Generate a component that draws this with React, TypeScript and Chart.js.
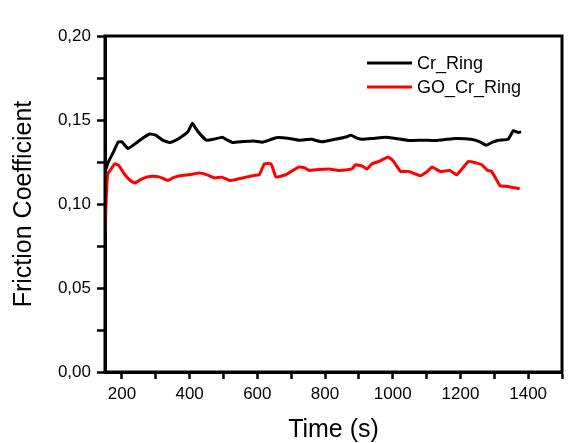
import React, { useEffect, useRef } from "react";
import { Chart, registerables } from "chart.js";

Chart.register(...registerables);

const crTime = [153, 160, 175, 189, 200, 218, 240, 260, 282, 300, 320, 341, 360, 376, 395, 408, 425, 449, 470, 497, 512, 526, 560, 590, 615, 635, 655, 690, 723, 760, 791, 830, 865, 876, 895, 910, 940, 979, 1010, 1047, 1090, 1126, 1160, 1184, 1215, 1243, 1262, 1277, 1295, 1312, 1341, 1356, 1365, 1371, 1379];
const crFriction = [0.121, 0.125, 0.131, 0.137, 0.137, 0.133, 0.136, 0.139, 0.1417, 0.141, 0.138, 0.1366, 0.138, 0.14, 0.143, 0.148, 0.143, 0.138, 0.1385, 0.1398, 0.138, 0.1366, 0.1372, 0.1375, 0.1368, 0.138, 0.1395, 0.1392, 0.138, 0.1385, 0.137, 0.1385, 0.14, 0.141, 0.1392, 0.1385, 0.139, 0.1398, 0.139, 0.1378, 0.138, 0.1378, 0.1385, 0.139, 0.1388, 0.138, 0.1365, 0.135, 0.1368, 0.138, 0.1385, 0.1437, 0.143, 0.1425, 0.143];

const goTime = [150, 154, 158, 165, 179, 190, 209, 225, 238, 255, 273, 290, 312, 336, 350, 371, 400, 429, 450, 474, 495, 518, 545, 567, 590, 606, 614, 621, 640, 648, 655, 684, 705, 723, 740, 753, 780, 812, 840, 866, 880, 890, 910, 924, 939, 959, 986, 1000, 1023, 1047, 1081, 1100, 1116, 1140, 1169, 1189, 1205, 1224, 1245, 1263, 1280, 1292, 1305, 1317, 1335, 1351, 1365, 1375];
const goFriction = [0.083, 0.105, 0.118, 0.12, 0.124, 0.123, 0.1174, 0.114, 0.1125, 0.1145, 0.116, 0.1165, 0.116, 0.114, 0.1155, 0.1168, 0.1175, 0.1184, 0.1175, 0.1155, 0.116, 0.114, 0.115, 0.116, 0.117, 0.1174, 0.121, 0.124, 0.124, 0.12, 0.116, 0.1174, 0.12, 0.122, 0.1215, 0.12, 0.1205, 0.1208, 0.12, 0.1204, 0.121, 0.1234, 0.1225, 0.1208, 0.124, 0.1253, 0.128, 0.126, 0.1194, 0.1194, 0.1168, 0.119, 0.122, 0.1194, 0.12, 0.1174, 0.121, 0.1253, 0.1245, 0.1234, 0.12, 0.1194, 0.115, 0.1109, 0.1105, 0.11, 0.1095, 0.109];

const seriesNames = ["Cr_Ring", "GO_Cr_Ring"];
const xTickValues = [200, 300, 400, 500, 600, 700, 800, 900, 1000, 1100, 1200, 1300, 1400, 1500];
const xLabelValues = [200, 400, 600, 800, 1000, 1200, 1400];
const yTickValues = [0, 0.025, 0.05, 0.075, 0.1, 0.125, 0.15, 0.175, 0.2];
const yLabelValues = [0, 0.05, 0.1, 0.15, 0.2];

const FONT = '"Liberation Sans", Arial, sans-serif';

const framePlugin = {
  id: "frame",
  afterDatasetsDraw(chart: any) {
    const { ctx, chartArea } = chart;
    ctx.save();
    ctx.strokeStyle = "#000";
    ctx.lineWidth = 3;
    ctx.strokeRect(chartArea.left, chartArea.top, chartArea.right - chartArea.left, chartArea.bottom - chartArea.top);
    ctx.restore();
  },
};

const legendPlugin = {
  id: "insideLegend",
  afterDraw(chart: any) {
    const { ctx, chartArea } = chart;
    ctx.save();
    ctx.font = `18px ${FONT}`;
    ctx.textBaseline = "middle";
    ctx.textAlign = "left";
    chart.data.datasets.forEach((ds: any, i: number) => {
      const y = chartArea.top + 27 + i * 24;
      const x0 = chartArea.right - 195;
      ctx.strokeStyle = ds.borderColor;
      ctx.lineWidth = 3;
      ctx.beginPath();
      ctx.moveTo(x0, y);
      ctx.lineTo(x0 + 45, y);
      ctx.stroke();
      ctx.fillStyle = "#000";
      ctx.fillText(ds.label, x0 + 50, y + 1);
    });
    ctx.restore();
  },
};

export default function App() {
  const ref = useRef<HTMLCanvasElement>(null);

  useEffect(() => {
    if (!ref.current) return;
    const chart = new Chart(ref.current, {
      type: "line",
      data: {
        datasets: [
          {
            label: seriesNames[0],
            data: crTime.map((t, i) => ({ x: t, y: crFriction[i] })),
            borderColor: "#000000",
            borderWidth: 3,
            pointRadius: 0,
            tension: 0.1,
            fill: false,
          },
          {
            label: seriesNames[1],
            data: goTime.map((t, i) => ({ x: t, y: goFriction[i] })),
            borderColor: "#ff0000",
            borderWidth: 3,
            pointRadius: 0,
            tension: 0.1,
            fill: false,
          },
        ],
      },
      options: {
        animation: false,
        responsive: false,
        devicePixelRatio: 1,
        layout: { padding: { top: 36, right: 20, left: 0, bottom: 0 } },
        plugins: { legend: { display: false }, tooltip: { enabled: false } },
        scales: {
          x: {
            type: "linear",
            min: 150,
            max: 1500,
            afterBuildTicks: (scale: any) => {
              scale.ticks = xTickValues.map((v) => ({ value: v }));
            },
            afterFit: (scale: any) => {
              scale.height = 71;
            },
            ticks: {
              autoSkip: false,
              maxRotation: 0,
              padding: 5,
              color: "#000",
              font: { family: FONT, size: 17 },
              callback: (v: any) => (xLabelValues.includes(Number(v)) ? String(v) : ""),
            },
            grid: { drawOnChartArea: false, drawTicks: true, tickLength: 7, tickWidth: 2.5, tickColor: "#000" },
            border: { display: true, color: "#000", width: 3 },
            title: {
              display: true,
              text: "Time (s)",
              color: "#000",
              font: { family: FONT, size: 25, lineHeight: 1 },
              padding: { top: 0, bottom: 0 },
            },
          },
          y: {
            type: "linear",
            min: 0,
            max: 0.2,
            afterBuildTicks: (scale: any) => {
              scale.ticks = yTickValues.map((v) => ({ value: v }));
            },
            afterFit: (scale: any) => {
              scale.width = 105;
            },
            ticks: {
              autoSkip: false,
              padding: 6,
              color: "#000",
              font: { family: FONT, size: 17 },
              callback: (v: any) =>
                yLabelValues.some((l) => Math.abs(l - Number(v)) < 1e-6) ? Number(v).toFixed(2).replace(".", ",") : "",
            },
            grid: { drawOnChartArea: false, drawTicks: true, tickLength: 8, tickWidth: 2.5, tickColor: "#000" },
            border: { display: true, color: "#000", width: 3 },
            title: {
              display: true,
              text: "Friction Coefficient",
              color: "#000",
              font: { family: FONT, size: 25 },
              padding: { top: 9, bottom: 0 },
            },
          },
        },
      },
      plugins: [framePlugin, legendPlugin],
    });
    return () => chart.destroy();
  }, []);

  return (
    <div style={{ position: "fixed", left: 0, top: 0, width: 582, height: 443, background: "#fff" }}>
      <canvas ref={ref} width={582} height={443} style={{ width: 582, height: 443 }} />
    </div>
  );
}
